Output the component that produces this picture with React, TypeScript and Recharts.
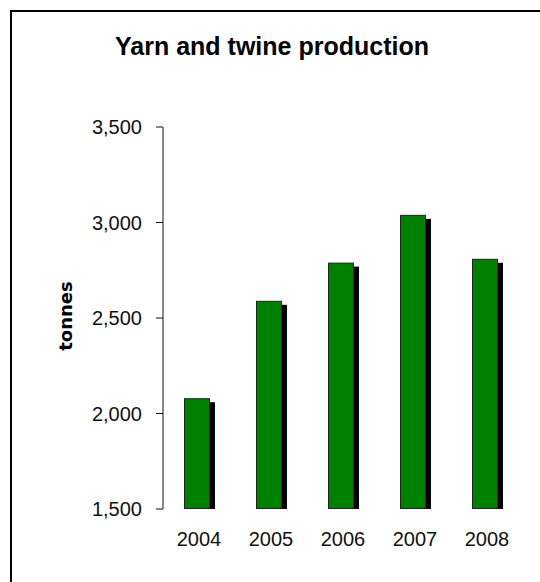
import { Bar, BarChart, Label, XAxis, YAxis } from "recharts";

const years = ["2004", "2005", "2006", "2007", "2008"];
const production = [2080, 2590, 2790, 3040, 2810];
const yTicks = [1500, 2000, 2500, 3000, 3500];

const rows = years.map((year, i) => ({ year, tonnes: production[i] }));

const SHADOW_X = 5;
const SHADOW_Y = 4;

function ShadowBar(props: any) {
  const { x, y, width, height } = props;
  const w = width - SHADOW_X;
  return (
    <g>
      <rect
        x={x + SHADOW_X}
        y={y + SHADOW_Y}
        width={w}
        height={Math.max(0, height - SHADOW_Y)}
        fill="#000"
      />
      <rect x={x + 0.5} y={y + 0.5} width={w - 1} height={height - 1} fill="#008000" stroke="#222" />
    </g>
  );
}

function TonnesLabel(props: any) {
  const { x, y, height } = props.viewBox;
  const cx = x + 2;
  const cy = y + height / 2 - 2;
  return (
    <text
      x={cx}
      y={cy}
      transform={`rotate(-90 ${cx} ${cy})`}
      textAnchor="middle"
      dominantBaseline="central"
      fontFamily="DejaVu Sans"
      fontWeight="bold"
      fontSize={18}
      fill="#000"
    >
      tonnes
    </text>
  );
}

export default function App() {
  return (
    <div
      style={{
        position: "fixed",
        left: 0,
        top: 0,
        width: 540,
        height: 582,
        overflow: "hidden",
        background: "#fff",
      }}
    >
      <div
        style={{
          position: "absolute",
          left: 10,
          top: 10,
          width: 600,
          height: 640,
          border: "2px solid #000",
        }}
      />
      <div
        style={{
          position: "absolute",
          left: 2,
          top: 33,
          width: 540,
          textAlign: "center",
          fontFamily: "Liberation Sans",
          fontWeight: "bold",
          fontSize: 25,
          lineHeight: "26px",
          color: "#000",
        }}
      >
        Yarn and twine production
      </div>
      <div style={{ position: "absolute", left: 0, top: 0 }}>
        <BarChart
          width={540}
          height={582}
          data={rows}
          margin={{ top: 127, right: 17, bottom: 33, left: 63 }}
          barCategoryGap={0}
        >
          <XAxis
            dataKey="year"
            axisLine={false}
            tickLine={false}
            tickMargin={17}
            height={40}
            tick={{ fill: "#111", fontSize: 20, fontFamily: "Liberation Sans" }}
          />
          <YAxis
            width={100}
            domain={[1500, 3500]}
            ticks={yTicks}
            allowDataOverflow
            tickSize={7}
            tickMargin={14}
            axisLine={{ stroke: "#111" }}
            tickLine={{ stroke: "#111" }}
            tickFormatter={(v: number) => v.toLocaleString("en-US")}
            tick={{ fill: "#111", fontSize: 20, fontFamily: "Liberation Sans" }}
          >
            <Label content={TonnesLabel} />
          </YAxis>
          <Bar dataKey="tonnes" barSize={31} shape={ShadowBar} isAnimationActive={false} />
        </BarChart>
      </div>
    </div>
  );
}
